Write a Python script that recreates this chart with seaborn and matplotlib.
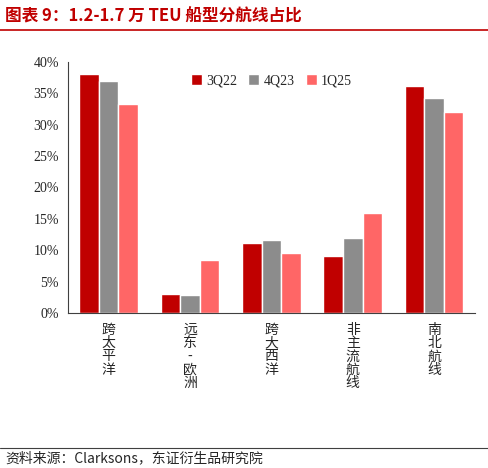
import pandas as pd
import matplotlib.pyplot as plt
import seaborn as sns

routes = ['跨太平洋', '远东-欧洲', '跨大西洋', '非主流航线', '南北航线']
periods = ['3Q22', '4Q23', '1Q25']
v_3q22 = [38.0, 3.1, 11.1, 9.1, 36.1]
v_4q23 = [37.0, 2.9, 11.7, 11.9, 34.3]
v_1q25 = [33.2, 8.5, 9.5, 15.9, 32.0]
colors = ['#C00000', '#8C8C8C', '#FF6666']

rows = []
for p, vals in zip(periods, [v_3q22, v_4q23, v_1q25]):
    for r, v in zip(routes, vals):
        rows.append({'route': r, 'period': p, 'value': v})
df = pd.DataFrame(rows)

sns.set_style('white')
plt.rcParams['font.family'] = ['Noto Sans CJK SC', 'DejaVu Sans']

fig = plt.figure(figsize=(4.89, 4.68), dpi=100)
ax = fig.add_axes([0.139, 0.331, 0.832, 0.537])
sns.barplot(data=df, x='route', y='value', hue='period', palette=colors,
            width=0.72, gap=0.0, saturation=1, ax=ax)

ax.set_ylim(0, 40)
ax.set_yticks(range(0, 41, 5))
ax.set_yticklabels([f'{t}%' for t in range(0, 41, 5)], fontsize=10,
                   family=['Liberation Serif', 'DejaVu Serif'])
ax.set_xlim(-0.5, 4.5)
ax.set_xticks([i - 0.5 for i in range(6)])
ax.set_xticklabels([])
ax.tick_params(axis='x', length=32, width=0.8, color='#404040', direction='out')
ax.tick_params(axis='y', length=3, width=0.8, color='#404040')
for i, r in enumerate(routes):
    ax.text(i, -1.5, '\n'.join(r), ha='center', va='top',
            fontsize=10, linespacing=0.95, transform=ax.transData)
ax.set_xlabel('')
ax.set_ylabel('')
for s in ['top', 'right']:
    ax.spines[s].set_visible(False)
for s in ['left', 'bottom']:
    ax.spines[s].set_color('#404040')
ax.legend(loc='upper center', bbox_to_anchor=(0.5, 1.0), ncol=3, frameon=False,
          handlelength=0.8, handleheight=0.8, columnspacing=0.8,
          handletextpad=0.3, prop={'family': ['Liberation Serif', 'DejaVu Serif'], 'size': 10})

fig.text(0.01, 0.965, '图表 9：1.2-1.7 万 TEU 船型分航线占比', color='#C00000',
         fontsize=12, fontweight='bold', va='center')
fig.add_artist(plt.Line2D([0.0, 1.0], [0.935, 0.935], color='#C00000', lw=1.2))
fig.add_artist(plt.Line2D([0.0, 1.0], [0.043, 0.043], color='#404040', lw=0.8))
fig.text(0.01, 0.02, '资料来源：Clarksons，东证衍生品研究院', fontsize=10, va='center')

fig.savefig('out.png', dpi=100)
